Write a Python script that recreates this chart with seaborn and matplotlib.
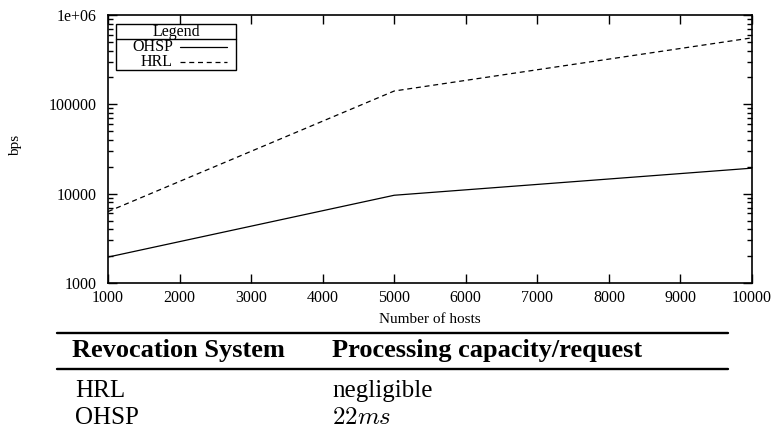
import matplotlib
matplotlib.use("Agg")
import matplotlib.pyplot as plt
import seaborn as sns
import pandas as pd
from matplotlib.lines import Line2D
from matplotlib.patches import Rectangle
from matplotlib.ticker import LogLocator, FixedLocator, NullFormatter

hosts = [1000, 5000, 10000]
ohsp = [1950, 9600, 19300]
hrl = [6300, 141000, 555000]
series_names = ["OHSP", "HRL"]
x_ticks = [1000, 2000, 3000, 4000, 5000, 6000, 7000, 8000, 9000, 10000]
y_ticks = [1000, 10000, 100000, 1000000]
y_tick_labels = ["1000", "10000", "100000", "1e+06"]
table_header = ["Revocation System", "Processing capacity/request"]
table_rows = [["HRL", "negligible"], ["OHSP", "$22ms$"]]

sns.set_theme(style="ticks")
plt.rcParams['font.family'] = ['Liberation Serif', 'DejaVu Serif']
plt.rcParams['mathtext.fontset'] = 'cm'
plt.rcParams['text.color'] = 'black'
plt.rcParams['axes.labelcolor'] = 'black'
plt.rcParams['xtick.color'] = 'black'
plt.rcParams['ytick.color'] = 'black'

df = pd.DataFrame({
    "hosts": hosts * 2,
    "bps": ohsp + hrl,
    "system": [series_names[0]] * 3 + [series_names[1]] * 3,
})

fig = plt.figure(figsize=(7.73, 4.46), dpi=100)
ax = fig.add_axes([108/773, 1-283/446, 644/773, 268/446])

dash = (4, 3)
sns.lineplot(data=df, x="hosts", y="bps", hue="system", style="system",
             palette={"OHSP": "black", "HRL": "black"},
             dashes={"OHSP": "", "HRL": dash}, linewidth=0.9, ax=ax, legend=False)

ax.set_yscale("log")
ax.set_xlim(1000, 10000)
ax.set_ylim(1000, 1000000)
ax.xaxis.set_major_locator(FixedLocator(x_ticks))
ax.set_xticklabels([str(t) for t in x_ticks])
ax.yaxis.set_major_locator(FixedLocator(y_ticks))
ax.set_yticklabels(y_tick_labels)
ax.yaxis.set_minor_locator(LogLocator(base=10, subs=range(2, 10)))
ax.yaxis.set_minor_formatter(NullFormatter())

for s in ax.spines.values():
    s.set_linewidth(1.2)
    s.set_color("black")
ax.tick_params(axis="x", which="major", direction="in", length=6.5, width=1.0,
               top=True, labelsize=11.5, colors="black", pad=5)
ax.tick_params(axis="y", which="major", direction="in", length=6.5, width=1.0,
               right=True, labelsize=11.5, colors="black", pad=8)
ax.tick_params(axis="y", which="minor", direction="in", length=3.5, width=1.0,
               right=True, left=True, colors="black")
ax.set_xlabel("Number of hosts", fontsize=11, color="black")
ax.xaxis.set_label_coords(0.5, -0.138)
ax.xaxis.label.set_va("center")
ax.set_ylabel("bps", fontsize=11, color="black")
ax.yaxis.set_label_coords(-0.143, 0.515)
ax.yaxis.label.set_va("center")

# legend (gnuplot style, labels right-aligned before samples)
T = ax.transAxes
ax.add_patch(Rectangle((0.0124, 0.7948), 0.1988 - 0.0124, 0.9664 - 0.7948, fill=True,
                       facecolor="white", edgecolor="black", lw=1.0, transform=T, zorder=5))
ax.add_line(Line2D([0.0124, 0.1988], [0.9104, 0.9104], color="black", lw=1.0, transform=T, zorder=6))
ax.text(0.1056, 0.9384, "Legend", fontsize=11.5, ha="center", va="center", transform=T, zorder=6)
for name, yy, ls in [(series_names[0], 0.8806, "-"), (series_names[1], 0.8246, (0, dash))]:
    ax.text(0.1009, yy, name, fontsize=11.5, ha="right", va="center", transform=T, zorder=6)
    ax.add_line(Line2D([0.1118, 0.1848], [yy, yy], color="black", lw=0.9, ls=ls,
                       transform=T, zorder=6))

# table
x0, x1 = 57/773, 728/773
for yy in [1-333/446, 1-369/446]:
    fig.add_artist(Line2D([x0, x1], [yy, yy], color="black", lw=1.7, transform=fig.transFigure))
col_x = [72/773, 332/773]
fig.text(col_x[0], 1-351/446, table_header[0], fontsize=19, fontweight="bold", va="center", ha="left")
fig.text(col_x[1], 1-351/446, table_header[1], fontsize=19, fontweight="bold", va="center", ha="left")
row_y = [1-391/446, 1-418/446]
for ry, row in zip(row_y, table_rows):
    fig.text(75/773, ry, row[0], fontsize=18, va="center", ha="left")
    fig.text(col_x[1], ry, row[1], fontsize=18, va="center", ha="left")

fig.savefig("out.png", dpi=100)
